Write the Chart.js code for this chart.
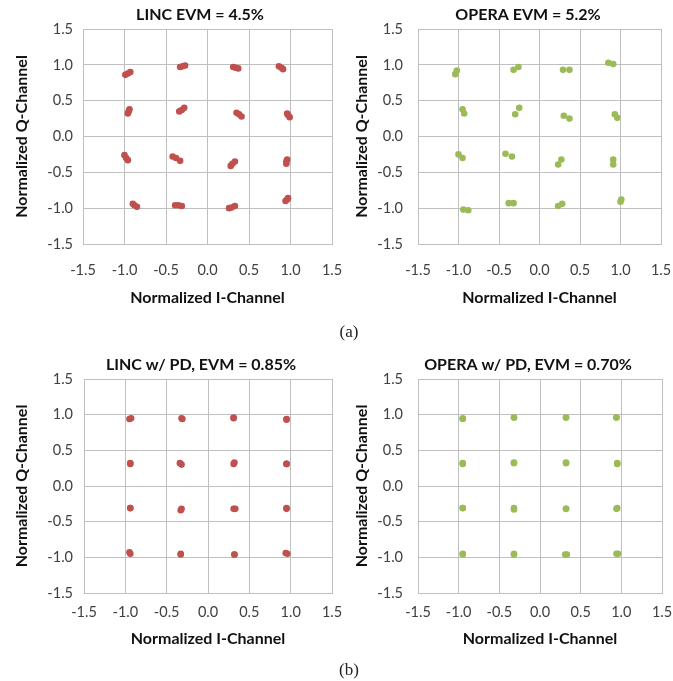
<!DOCTYPE html>
<html>
<head>
<meta charset="utf-8">
<script src="https://cdn.jsdelivr.net/npm/chart.js@4.4.1/dist/chart.umd.min.js"></script>
<style>
  body { margin: 0; background: #fff; width: 673px; height: 681px; position: relative; overflow: hidden; }
  .box { position: absolute; }
  .cap { position: absolute; font-family: "Liberation Serif", serif; font-size: 17px; color: #222; transform: translate(-50%, -50%); }
</style>
</head>
<body>
<div class="box" id="boxTL"><canvas id="chartTL"></canvas></div>
<div class="box" id="boxTR"><canvas id="chartTR"></canvas></div>
<div class="box" id="boxBL"><canvas id="chartBL"></canvas></div>
<div class="box" id="boxBR"><canvas id="chartBR"></canvas></div>
<div class="cap" style="left:349px; top:332px;">(a)</div>
<div class="cap" style="left:349px; top:670px;">(b)</div>
<script>
// axis ticks shared by all four panels
const tickValues = [-1.5, -1.0, -0.5, 0.0, 0.5, 1.0, 1.5];

// (a) LINC, EVM = 4.5%
const lincI = [-0.99, -0.96, -0.93, -0.33, -0.30, -0.27, 0.31, 0.34, 0.37, 0.86, 0.89, 0.91,
               -0.96, -0.95, -0.94, -0.34, -0.31, -0.28, 0.35, 0.38, 0.41, 0.96, 0.97, 0.99,
               -1.00, -0.98, -0.96, -0.42, -0.38, -0.33, 0.28, 0.30, 0.33, 0.96, 0.95, 0.95,
               -0.90, -0.88, -0.85, -0.39, -0.35, -0.31, 0.26, 0.29, 0.33, 0.94, 0.96, 0.97];
const lincQ = [0.86, 0.88, 0.90, 0.97, 0.98, 0.99, 0.97, 0.96, 0.95, 0.98, 0.96, 0.94,
               0.32, 0.35, 0.38, 0.35, 0.37, 0.40, 0.33, 0.31, 0.28, 0.32, 0.30, 0.27,
               -0.26, -0.30, -0.33, -0.28, -0.30, -0.34, -0.41, -0.38, -0.35, -0.32, -0.35, -0.38,
               -0.94, -0.96, -0.98, -0.96, -0.96, -0.97, -1.00, -0.99, -0.97, -0.90, -0.88, -0.86];

// (a) OPERA, EVM = 5.2%
const operaI = [-1.04, -1.02, -0.32, -0.26, 0.29, 0.37, 0.85, 0.91,
                -0.95, -0.93, -0.30, -0.25, 0.30, 0.37, 0.93, 0.96,
                -1.00, -0.95, -0.42, -0.34, 0.23, 0.27, 0.91, 0.91,
                -0.94, -0.88, -0.38, -0.32, 0.23, 0.28, 1.00, 1.01];
const operaQ = [0.87, 0.92, 0.93, 0.97, 0.93, 0.93, 1.03, 1.01,
                0.38, 0.32, 0.31, 0.40, 0.29, 0.25, 0.31, 0.26,
                -0.25, -0.30, -0.24, -0.28, -0.39, -0.32, -0.32, -0.39,
                -1.02, -1.03, -0.93, -0.93, -0.97, -0.94, -0.91, -0.88];

// (b) LINC w/ PD, EVM = 0.85%
const lincPdI = [-0.95, -0.93, -0.32, -0.31, 0.31, 0.31, 0.95, 0.95,
                 -0.94, -0.94, -0.34, -0.32, 0.31, 0.32, 0.95, 0.95,
                 -0.94, -0.94, -0.33, -0.32, 0.31, 0.33, 0.95, 0.95,
                 -0.95, -0.94, -0.33, -0.33, 0.32, 0.32, 0.94, 0.96];
const lincPdQ = [0.94, 0.95, 0.95, 0.94, 0.95, 0.96, 0.94, 0.93,
                 0.31, 0.32, 0.32, 0.30, 0.31, 0.33, 0.31, 0.31,
                 -0.31, -0.31, -0.34, -0.32, -0.32, -0.32, -0.31, -0.32,
                 -0.93, -0.95, -0.96, -0.95, -0.96, -0.96, -0.94, -0.95];

// (b) OPERA w/ PD, EVM = 0.70%
const operaPdI = [-0.95, -0.95, -0.32, -0.32, 0.32, 0.32, 0.94, 0.94,
                  -0.95, -0.95, -0.32, -0.32, 0.32, 0.32, 0.95, 0.95,
                  -0.95, -0.95, -0.32, -0.32, 0.32, 0.32, 0.94, 0.95,
                  -0.95, -0.95, -0.32, -0.32, 0.31, 0.33, 0.94, 0.96];
const operaPdQ = [0.94, 0.95, 0.96, 0.96, 0.96, 0.96, 0.96, 0.96,
                  0.31, 0.32, 0.32, 0.33, 0.32, 0.33, 0.31, 0.32,
                  -0.31, -0.31, -0.33, -0.31, -0.32, -0.32, -0.32, -0.31,
                  -0.95, -0.96, -0.96, -0.95, -0.96, -0.96, -0.95, -0.95];

const RED = '#C0504D';
const GREEN = '#9BBB59';
const GRID = '#BFBFBF';
const FONT = 'Lato, "Open Sans", sans-serif';
const BOLD = 16;

function toPoints(xs, ys) {
    return xs.map((x, i) => ({ x: x, y: ys[i] }));
}

/**
 * Build one constellation panel. x/y = page position of canvas, plot = page box of plot area,
 * titleX = page x where the chart title is centred
 */
function makePanel(id, title, xs, ys, color, pos, plot, opts) {
    // title spans the whole canvas width, so size the canvas to centre it at titleX
    const width = 2 * (opts.titleX - pos.x);
    const wrap = document.getElementById('box' + id);
    wrap.style.left = pos.x + 'px';
    wrap.style.top = pos.y + 'px';
    wrap.style.width = width + 'px';
    wrap.style.height = pos.h + 'px';

    const yWidth = plot.l - pos.x;
    const spacer = width - (plot.r - pos.x);   // empty right-hand axis
    const xHeight = pos.y + pos.h - plot.b;
    const titleH = plot.t - pos.y;
    const half = BOLD * 1.2 / 2;

    return new Chart(document.getElementById('chart' + id), {
        type: 'scatter',
        data: {
            datasets: [{
                data: toPoints(xs, ys),
                backgroundColor: color,
                borderColor: color,
                pointRadius: 3.3,
                pointBorderWidth: 0
            }]
        },
        options: {
            responsive: true,
            maintainAspectRatio: false,
            animation: false,
            layout: { padding: 0 },
            plugins: {
                legend: { display: false },
                tooltip: { enabled: false },
                title: {
                    display: true,
                    text: title,
                    color: '#111',
                    font: { family: FONT, size: BOLD, weight: 'bold' },
                    padding: { top: titleH / 2 - half, bottom: titleH / 2 - half }
                }
            },
            scales: {
                x: {
                    type: 'linear',
                    min: -1.5,
                    max: 1.5,
                    afterBuildTicks: (s) => { s.ticks = tickValues.map(v => ({ value: v })); },
                    afterFit: (s) => { s.height = xHeight; s.paddingLeft = 0; s.paddingRight = 0; },
                    grid: { color: GRID, drawTicks: false },
                    border: { color: GRID },
                    ticks: {
                        color: '#404040',
                        font: { family: FONT, size: 14.5 },
                        padding: opts.xTickGap - 8.7,
                        maxRotation: 0,
                        callback: (v) => Number(v).toFixed(1)
                    },
                    title: {
                        display: true,
                        text: 'Normalized I-Channel',
                        color: '#111',
                        font: { family: FONT, size: BOLD, weight: 'bold' },
                        padding: { top: 0, bottom: opts.xTitleOff - half }
                    }
                },
                y: {
                    type: 'linear',
                    min: -1.5,
                    max: 1.5,
                    afterBuildTicks: (s) => { s.ticks = tickValues.map(v => ({ value: v })); },
                    afterFit: (s) => { s.width = yWidth; s.paddingTop = 0; s.paddingBottom = 0; },
                    grid: { color: GRID, drawTicks: false },
                    border: { color: GRID },
                    ticks: {
                        color: '#404040',
                        font: { family: FONT, size: 14.5 },
                        padding: opts.yTickPad,
                        callback: (v) => Number(v).toFixed(1)
                    },
                    title: {
                        display: true,
                        text: 'Normalized Q-Channel',
                        color: '#111',
                        font: { family: FONT, size: BOLD, weight: 'bold' },
                        padding: { top: opts.yTitleX - pos.x - half, bottom: 0 }
                    }
                },
                spacer: {
                    type: 'linear',
                    position: 'right',
                    grid: { display: false },
                    border: { display: false },
                    ticks: { display: false },
                    afterFit: (s) => { s.width = spacer; s.paddingTop = 0; s.paddingBottom = 0; }
                }
            }
        }
    });
}

makePanel('TL', 'LINC EVM = 4.5%', lincI, lincQ, RED,
    { x: 0, y: 0, h: 312 }, { l: 83, r: 332, t: 29, b: 244 },
    { titleX: 200, xTickGap: 26, xTitleOff: 14, yTickPad: 10, yTitleX: 22 });
makePanel('TR', 'OPERA EVM = 5.2%', operaI, operaQ, GREEN,
    { x: 336, y: 0, h: 312 }, { l: 418, r: 661, t: 29, b: 244 },
    { titleX: 528, xTickGap: 26, xTitleOff: 14, yTickPad: 15, yTitleX: 362 });
makePanel('BL', 'LINC w/ PD, EVM = 0.85%', lincPdI, lincPdQ, RED,
    { x: 0, y: 350, h: 312 }, { l: 84, r: 332, t: 379, b: 593 },
    { titleX: 201, xTickGap: 19, xTitleOff: 23, yTickPad: 11, yTitleX: 22 });
makePanel('BR', 'OPERA w/ PD, EVM = 0.70%', operaPdI, operaPdQ, GREEN,
    { x: 336, y: 350, h: 312 }, { l: 418, r: 662, t: 379, b: 593 },
    { titleX: 528, xTickGap: 19, xTitleOff: 23, yTickPad: 15, yTitleX: 362 });
</script>
</body>
</html>
